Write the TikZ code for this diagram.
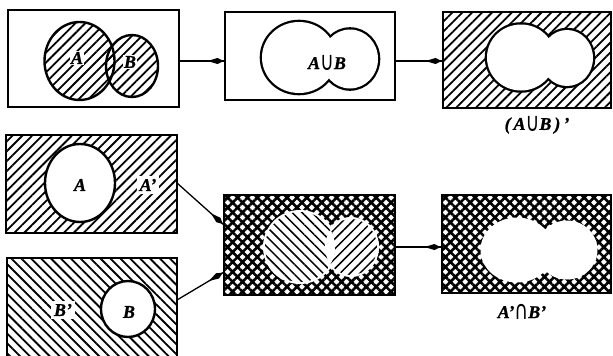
\documentclass[tikz,border=0pt]{standalone}
\usepackage{fontspec}
\usepackage{graphicx}
\setmainfont{Liberation Serif}
\newfontface\lblface{Liberation Serif Bold Italic}[FakeBold=1]
\newfontfamily\symfont{DejaVu Sans}
\usetikzlibrary{patterns.meta,decorations.markings}

% set operators, stretched to the height of the capitals
\newcommand{\setcup}{\raisebox{-1.5pt}{\symfont\scalebox{1.05}[1.45]{∪}}}
\newcommand{\setcap}{\raisebox{-1.5pt}{\symfont\scalebox{1.05}[1.45]{∩}}}

\tikzset{
  box/.style args={#1/#2}{draw, line width=2.4pt, minimum width=#1pt,
    minimum height=#2pt, inner sep=0pt, outer sep=0pt},
  ne/.style={pattern={Lines[angle=45,distance=7pt,line width=1.8pt]}},
  nw/.style={pattern={Lines[angle=-45,distance=7pt,line width=1.8pt]}},
  nwthin/.style={pattern={Lines[angle=-45,distance=7pt,line width=1.5pt]}},
  nethin/.style={pattern={Lines[angle=45,distance=7pt,line width=1.5pt]}},
  xh/.style={pattern={Hatch[angle=45,distance=7pt,line width=2.6pt]}},
  rim/.style={line width=2.4pt},
  lbl/.style={font=\fontsize{18}{20}\lblface, inner sep=0.8pt},
  % connector: a plain line with a slender spindle head just short of its end
  conn/.style={line width=1.3pt,
    postaction={decorate, decoration={markings,
      mark=at position -1.5pt with {\fill (0pt,0pt) -- (-6pt,3pt) -- (-16pt,0pt)
        -- (-6pt,-3pt) -- cycle;}}}},
}

\begin{document}
\begin{tikzpicture}[x=1pt,y=-1pt]
\useasboundingbox (0,0) rectangle (613,356);
\clip (0,0) rectangle (613,356);

% ---- top row: A and B, their union, the complement of the union
\node[box=171/97] (b1) at (93.5,58.5) {};
\fill[ne] (79.5,61) ellipse [x radius=35, y radius=39];
\fill[ne] (132,66) ellipse [x radius=26, y radius=31];
\draw[rim] (79.5,61) ellipse [x radius=35, y radius=39];
\draw[rim] (132,66) ellipse [x radius=26, y radius=31];
\node[lbl, fill=white] (la1) at (77,58) {A};
\node[lbl, fill=white] (lb1) at (130,62) {B};

\node[box=170/88] (b2) at (310,56) {};
\draw[line width=4.6pt] (299,57.5) ellipse [x radius=37, y radius=35.5];
\draw[line width=4.6pt] (350,59) ellipse [x radius=28, y radius=29.5];
\fill[white] (299,57.5) ellipse [x radius=37, y radius=35.5];
\fill[white] (350,59) ellipse [x radius=28, y radius=29.5];
\node[lbl] (lu) at (327,63) {A\setcup B};

\node[box=168/96, ne] (b3) at (527,60) {};
\draw[line width=4.6pt] (521,57.5) ellipse [x radius=34, y radius=33];
\draw[line width=4.6pt] (567,58) ellipse [x radius=26, y radius=28];
\fill[white] (521,57.5) ellipse [x radius=34, y radius=33];
\fill[white] (567,58) ellipse [x radius=26, y radius=28];
\node[lbl] (lc) at (537,125) {(\,A\setcup B\,)\,’};

% ---- bottom row: complements and their intersection
\node[box=171/98, ne] (b4) at (91.5,184) {};
\filldraw[rim, fill=white] (80,183) ellipse [x radius=35, y radius=39];
\node[lbl] (la4) at (80,185) {A};
\node[lbl, fill=white, inner sep=3pt] (lac) at (148,185) {A’};

\node[box=170/112, nw] (b5) at (92,314) {};
\filldraw[rim, fill=white] (128,309) ellipse [x radius=27, y radius=28];
\node[lbl] (lb5) at (129,312) {B};
\node[lbl, fill=white, inner sep=3pt] (lbc) at (63,310) {B’};

\node[box=171/100, xh] (b6) at (309.5,245) {};
\fill[white] (300,247) ellipse [x radius=37, y radius=37];
\fill[white] (351,247) ellipse [x radius=28, y radius=30];
\fill[nwthin] (300,247) ellipse [x radius=35, y radius=35];
\fill[nethin] (351,247) ellipse [x radius=26, y radius=28];
\begin{scope}
  \clip (300,247) ellipse [x radius=35, y radius=35];
  \fill[white] (351,247) ellipse [x radius=26, y radius=28];
\end{scope}

\node[box=169/98, xh] (b7) at (526.5,244) {};
\fill[white] (517,250) ellipse [x radius=36.5, y radius=32.5];
\fill[white] (567,250) ellipse [x radius=30.5, y radius=29.5];
\node[lbl] (ld) at (522,312) {A’\setcap B’};

% ---- connectors
\draw[conn] (b1.east |- 0,61) -- (b2.west |- 0,61);
\draw[conn] (b2.east |- 0,61) -- (b3.west |- 0,61);
\draw[conn] (b4.east |- 0,183) -- (b6.west |- 0,225);
\draw[conn] (b5.east |- 0,300) -- (b6.west |- 0,272);
\draw[conn] (b6.east |- 0,247) -- (b7.west |- 0,247);
\end{tikzpicture}
\end{document}
